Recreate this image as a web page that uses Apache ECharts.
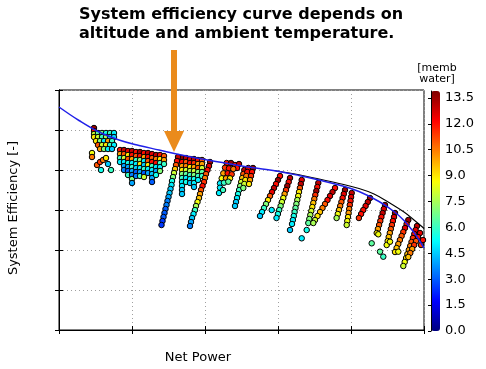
<!DOCTYPE html>
<html><head><meta charset="utf-8">
<script src="https://cdn.jsdelivr.net/npm/echarts/dist/echarts.min.js"></script>
<style>html,body{margin:0;padding:0;background:#fff}#c{width:486px;height:369px}</style>
</head><body><div id="c"></div>
<script>
// ---- data: [netPower, efficiency, membraneWater] ----
const clusterA = [
  [35,202,13.5],[35,199,12],[35,196,8],[35,193,9],
  [39,197,6.5],[43,197,7],[47,197,5.5],[51,197,6],[55,197,5],
  [39,193,8],[43,193,6],[47,193,7.5],[51,193,5],[55,193,4.5],
  [37,189,9],[41,189,7],[45,189,5],[49,189,10],[53,189,6],
  [39,185,11],[43,185,8],[47,185,9],[51,185,6],[55,185,5],
  [41,181,10],[45,181,7],[49,181,5],[53,181,4.5],
  [33,177,8.5],[33,173,10.5],[38,165,11],[41,168,11.5],[44,170,10.5],[47,172,9],[42,160,5.5],[52,160,6],[49,166,4.5]
];
const clusterB = [
  [61,180,12],[61,176,10],[61,172,6],[61,168,5],
  [65,180,13],[65,176,11],[65,172,8],[65,168,5],[65,164,4],[65,160,3.5],
  [69,179,12.5],[69,175,9],[69,171,11],[69,167,5.5],[69,163,4],[69,159,3],[69,155,6],
  [73,179,13],[73,175,12],[73,171,10],[73,167,5],[73,163,6],[73,159,4],[73,155,3.5],[73,151,7],[73,147,4],
  [77,178,12],[77,174,11],[77,170,6],[77,166,5],[77,162,4.5],[77,158,3],[77,154,3.5],
  [81,178,13.5],[81,174,12],[81,170,7],[81,166,9],[81,162,5],[81,158,4],[81,154,6],
  [85,177,12],[85,173,10],[85,169,5],[85,165,4.5],[85,161,6],[85,157,3],[85,153,8],
  [89,177,13],[89,173,12],[89,169,11],[89,165,9],[89,161,5],[89,157,4],
  [93,176,12.5],[93,172,11],[93,168,12],[93,164,6],[93,160,5],[93,156,4.5],[93,152,4],[93,148,3],
  [97,175,13],[97,171,10.5],[97,167,12],[97,163,5],[97,159,4],[97,155,5.5],
  [101,175,12],[101,171,9],[101,167,6],[101,163,5],[101,159,7],
  [105,174,11],[105,170,10],[105,166,6]
];
const clusterC = [
  [123,172,13.5],[123,168,12],[123,164,10],[123,160,9],[123,156,7],[123,152,6],[123,148,5],[123,144,5],[123,140,4.5],[123,136,4.5],
  [127,172,13],[127,168,11],[127,164,10.5],[127,160,8],[127,156,6.5],[127,152,5],[127,148,5.5],
  [131,171,12.5],[131,167,12],[131,163,9],[131,159,7.5],[131,155,6],[131,151,5],[131,147,4.5],
  [135,171,13],[135,167,11.5],[135,163,10],[135,159,8],[135,155,7],[135,151,5.5],[135,147,5],[135,143,4.5],
  [139,170,12],[139,166,10],[139,162,11],[139,158,7],[139,154,6],[139,150,5],
  [143,170,11],[143,166,10],[143,162,8],[143,158,6.5],[143,154,6]
];
const streakC1 = [
  [119,173,13],[118,169,12],[117,165,11],[116,161,9.5],[115,157,8],[114,153,7],[113,149,5.5],[112.5,145,5],[111.5,141,4.5],
  [110.5,137,4.5],[109.5,133,4],[108.5,129,3.5],[107.5,125,3.5],[106.5,121,3],[105.5,117,3],[104.5,113,3],[103.5,109,2.5],[102.5,105,2.5]
];
const streakC2 = [
  [151,168,13.5],[150,164,12.5],[148.5,160,12],[147,156,11],[146,152,10.5],[145,148,11.5],[143.5,144,12],[142,140,11],[141,136,10],
  [140,132,9.5],[138.5,128,8.5],[137,124,7.5],[136,120,6],[134.5,116,5],[133,112,4.5],[132,108,4],[131,104,3.5]
];
const clusterD = [
  [167.7,167,12],[172,167,13.5],[176,165,12],[180,166,13],[178,162,12],
  [166,162.3,11.5],[170,161.7,12],[174.3,161,10.5],
  [164.3,156.7,10],[168.7,156.7,12],[172.7,155.7,11.5],
  [162.7,151.7,8.5],[167,151.7,10],[171,151.7,9],
  [161,146.7,5],[165,147.3,6],[169.3,148.3,6.5],[161,142.3,5],[160,137,5],[164,140,6]
];
const clusterE = [
  [185.3,160,13],[184.3,156,11],[183.2,152,9.5],[182.2,148,8],[181.2,144,7],[180.1,140,6],[179,136,5.5],[178,132,5],[177,128,4.5],[176,124,4.5],
  [189.3,162,12.5],[188.3,158,12],[187.3,154,10.5],[186.3,150,9],[185.3,146,8],[184.3,142,7],
  [194,162,13.5],[193,158,12],[192,154,11.5],[191,150,10],[190,146,9]
];
const clusterF = [
  [221,154,12],[219,150,13.5],[217,146,12],[215,142,13],[213,138,12.5],[211,134,11],[209,130,9],[207,126,7],[205,122,6],[203,118,5],[201,114,4.5],
  [212.7,120,5],
  [231,152,13],[229.7,148,12],[228.3,144,13.5],[227,140,11.5],[225.6,136,10],[224.3,132,8.5],[222.9,128,8],[221.6,124,7],[220.2,120,6],[218.9,116,5.5],[217.5,112,5],
  [242.7,150,12.5],[241.8,146,13],[240.9,142,11],[240,138,9],[239.2,134,8.5],[238.3,130,7.5],[237.4,126,7],[236.5,122,6.5],[235.6,118,6],[234.8,114,5.5],[233.9,110,5],[233,106,5],
  [231,100,4.5],[242.7,91.7,5],[247.7,100,5.5],
  [259.3,147,13],[258.3,143,12],[257.3,139,13.5],[256.3,135,11.5],[255.3,131,10.5],[254.3,127,9.5],[253.3,123,9],[252.3,119,8],[251.3,115,7.5],[250.3,111,7],[249.3,107,6.5],
  [276,142,12],[273.5,138,13],[271,134,12.5],[268.5,130,12],[266,126,11],[263.5,122,10.5],[261,118,9.5],[258.5,114,9],[256,110,8],[254.3,107,7.5]
];
const clusterG = [
  [286,140,13.5],[284.8,136,12.5],[283.6,132,12],[282.4,128,11],[281.2,124,10.5],[280,120,9.5],[278.8,116,8.5],[277.6,112,7.5],
  [292.7,137,13],[292.1,133,12.5],[291.5,129,12],[290.8,125,11.5],[290.2,121,10.5],[289.6,117,10],[289,113,9],[288.3,109,8.5],[287.7,105,8],
  [311,132,13.5],[308.8,128,13],[306.6,124,12.5],[304.3,120,12],[302.1,116,12],[299.9,112,11.5],
  [326,125,13.5],[324.8,121,12.5],[323.6,117,13],[322.4,113,12],[321.3,109,11.5],[320.1,105,11],[318.9,101,10],[317.7,97,9],
  [336,117,13.5],[335,113,12.5],[333.9,109,12],[332.9,105,11.5],[331.8,101,11],[330.8,97,10],[329.7,93,9.5],[328.7,89,9],[327.7,85,8.5],
  [349.3,110,13.5],[347.6,106,12],[346,102,12.5],[344.3,98,11.5],[342.6,94,11],[340.9,90,10.5],[339.3,86,10],[337.6,82,9.5],[336,78,9],
  [358,104,13],[356.6,100,12.5],[355.3,96,12],[353.9,92,11.5],[352.5,88,11],[351.2,84,10.5],[349.8,80,10],[348.4,76,9.5],[347.1,72,9],[345.7,68,8.5],[344.3,64,8],
  [361,97,12.5],[359,93,12],[357,89,11],[355.2,85,11.5],[353.2,81,10],[351.3,77,10.5],[349.3,73,9.5],
  [364,90,12],[362,85,11.5],
  [312.7,86.7,6.5],[321,78.3,6.5],[324.3,73.3,6],[319.3,95.7,8.5],[331,88.3,8.5],[339.3,78.3,8.5]
];
const systemCurve = [
  [0,223],[20,209.5],[40,198],[60,190],[80,184.5],[100,180],[120,175.5],[140,171.5],[160,168],[180,164.5],
  [200,161.5],[220,158.5],[240,154.5],[260,150],[280,145],[300,138.5],[320,128.5],[335,118.5],[345,109.5],
  [355,97.5],[362,87],[365,82]
];
const envelopeCurve = [
  [215,159.5],[240,155.2],[260,151],[280,146.5],[300,141.5],[315,136],[330,127.5],[345,118],[355,110],[361,105],[365,101.5]
];
const colorbarMin = 0, colorbarMax = 13.9, colorbarStep = 1.5;
const jet = ['#00007f','#0000ff','#007fff','#00ffff','#7fff7f','#ffff00','#ff7f00','#ff0000','#7f0000'];

const FONT = 'DejaVu Sans';
const scatterData = [].concat(clusterA, clusterB, clusterC, streakC1, streakC2, clusterD, clusterE, clusterF, clusterG);

const chart = echarts.init(document.getElementById('c'), null, {renderer: 'canvas'});
const gridAxisX = {
  type: 'value', gridIndex: 0, min: 0, max: 365, interval: 73,
  axisLabel: {show: false},
  axisLine: {show: true, lineStyle: {color: '#000', width: 1}},
  axisTick: {show: true, inside: true, length: 4, lineStyle: {color: '#000'}},
  splitLine: {show: false}
};
const gridAxisY = {
  type: 'value', gridIndex: 0, min: 0, max: 240, interval: 40,
  axisLabel: {show: false},
  axisLine: {show: true, lineStyle: {color: '#000', width: 1}},
  axisTick: {show: true, inside: true, length: 4, lineStyle: {color: '#000'}},
  splitLine: {show: false}
};
chart.setOption({
  animation: false,
  backgroundColor: '#fff',
  grid: [
    {left: 59, top: 90, width: 365, height: 240, show: true, borderColor: '#000', borderWidth: 1, backgroundColor: 'transparent'},
    {left: 431, top: 91, width: 9, height: 240}
  ],
  xAxis: [
    Object.assign({}, gridAxisX, {position: 'bottom', splitLine: {show: true, lineStyle: {color: '#a0a0a0', width: 1, type: [1, 3]}}}),
    Object.assign({}, gridAxisX, {position: 'top'}),
    {type: 'value', gridIndex: 1, min: 0, max: 1, show: false}
  ],
  yAxis: [
    Object.assign({}, gridAxisY, {position: 'left', splitLine: {show: true, lineStyle: {color: '#a0a0a0', width: 1, type: [1, 3]}}}),
    Object.assign({}, gridAxisY, {position: 'right'}),
    {
      type: 'value', gridIndex: 1, min: colorbarMin, max: colorbarMax, interval: colorbarStep, position: 'right', z: 10,
      axisLine: {show: true, lineStyle: {color: '#000'}},
      axisTick: {show: true, inside: true, length: 3, lineStyle: {color: '#000'}},
      axisLabel: {show: true, margin: 5, fontSize: 13, fontFamily: FONT, color: '#000', showMaxLabel: false,
        formatter: v => (Math.abs(v - colorbarMax) < 1e-6 ? '' : v.toFixed(1))},
      splitLine: {show: false}
    }
  ],
  visualMap: {
    type: 'continuous', min: colorbarMin, max: colorbarMax, dimension: 2, seriesIndex: 0,
    inRange: {color: jet}, left: 431, top: 91, itemWidth: 9, itemHeight: 240, padding: 0,
    calculable: false, hoverLink: false, orient: 'vertical', realtime: false
  },
  series: [
    {type: 'scatter', xAxisIndex: 0, yAxisIndex: 0, data: scatterData, symbolSize: 5.5,
      itemStyle: {borderColor: '#000', borderWidth: 1, opacity: 1}, z: 2},
    {type: 'line', xAxisIndex: 0, yAxisIndex: 0, data: envelopeCurve, smooth: 0.4, symbol: 'none',
      lineStyle: {color: '#000', width: 1.1}, z: 3},
    {type: 'line', xAxisIndex: 0, yAxisIndex: 0, data: systemCurve, smooth: 0.4, symbol: 'none',
      lineStyle: {color: '#2020e8', width: 1.5}, z: 4}
  ],
  graphic: [
    {type: 'text', x: 79, y: 5, style: {text: 'System efficiency curve depends on\naltitude and ambient temperature.',
      fontSize: 16, fontWeight: 'bold', fontFamily: FONT, fill: '#000', lineHeight: 19, align: 'left', verticalAlign: 'top'}},
    {type: 'rect', shape: {x: 171, y: 50, width: 6, height: 82}, style: {fill: '#ea8b1c'}, z: 20},
    {type: 'polygon', shape: {points: [[164, 131], [184, 131], [174, 152]]}, style: {fill: '#ea8b1c'}, z: 20},
    {type: 'text', x: 198, y: 358, style: {text: 'Net Power', fontSize: 13, fontFamily: FONT, fill: '#000', align: 'center', verticalAlign: 'middle'}},
    {type: 'text', x: 14, y: 208, rotation: Math.PI / 2, style: {text: 'System Efficiency [-]', fontSize: 13, fontFamily: FONT, fill: '#000', align: 'center', verticalAlign: 'middle'}},
    {type: 'text', x: 437, y: 74, style: {text: '[memb\nwater]', fontSize: 11, fontFamily: FONT, fill: '#000', align: 'center', verticalAlign: 'middle', lineHeight: 11}}
  ]
});
</script>
</body></html>
